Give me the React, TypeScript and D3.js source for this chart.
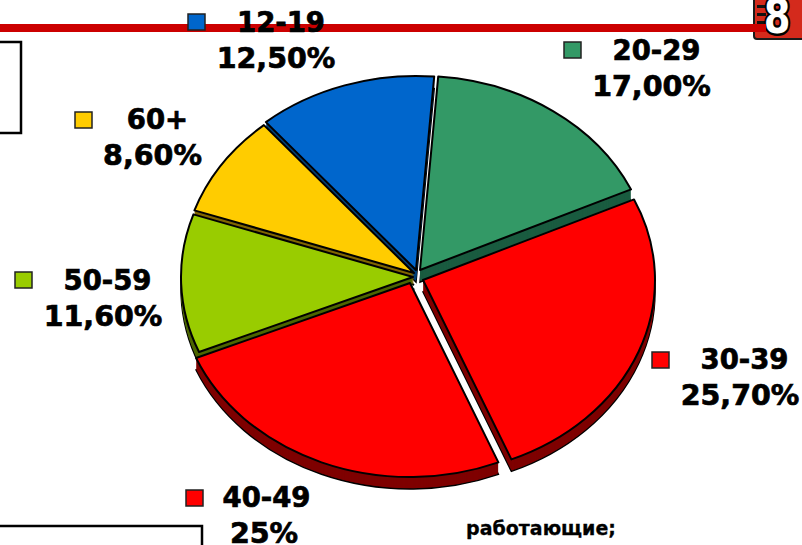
import React from "react";
import * as d3 from "d3";

const groups = ["20-29", "30-39", "40-49", "50-59", "60+", "12-19"];
const shares = [17.0, 25.7, 25.0, 11.6, 8.6, 12.5];
const shareLabels = ["17,00%", "25,70%", "25%", "11,60%", "8,60%", "12,50%"];
const topColors = ["#339966", "#FF0000", "#FF0000", "#99CC00", "#FFCC00", "#0066CC"];
const wallColors = ["#1A5C40", "#7F0000", "#7F0000", "#4D6600", "#806600", "#003D73"];
const centersX = [420, 423, 410, 413, 414, 416];
const centersY = [270, 280, 283, 277, 273, 270];
const drawOrder = [0, 5, 4, 3, 2, 1];
const groupX = [656.5, 744.5, 266.5, 107.5, 157.5, 281];
const shareX = [651.5, 740, 264, 103, 152.5, 276];
const labelY = [60, 369, 507, 290, 129, 32];
const swatchX = [564, 652, 186, 15, 75, 188];
const swatchY = [42, 352, 490, 272, 112, 14];
const stripeY = [5, 13, 21];

const RX = 232;
const RY = 194;
const DEPTH = 12;
const FONT = "'DejaVu Sans', Verdana, sans-serif";

export default function App() {
  const pieGen = d3
    .pie<number>()
    .sort(null)
    .startAngle((4.5 * Math.PI) / 180)
    .endAngle(((4.5 + 360) * Math.PI) / 180);
  const arcs = pieGen(shares);
  const arcGen = d3.arc<d3.PieArcDatum<number>>().innerRadius(0).outerRadius(RX);
  const yScale = RY / RX;
  const wallSteps = d3.range(DEPTH, 0, -1);

  return (
    <svg
      width={802}
      height={545}
      viewBox="0 0 802 545"
      style={{ position: "fixed", left: 0, top: 0, background: "#fff" }}
    >
      <g>
        <rect x={754} y={-6} width={60} height={45} rx={3} fill="#D42A1C" stroke="#1a1a1a" strokeWidth={2} />
        {stripeY.map((y) => (
          <rect key={y} x={757} y={y} width={9} height={3} fill="#111" />
        ))}
        <g transform="translate(777,33) scale(0.8,1)">
          <text
            x={0}
            y={0}
            textAnchor="middle"
            fontFamily={FONT}
            fontWeight="bold"
            fontSize={48}
            fill="#fff"
            stroke="#000"
            strokeWidth={5}
            paintOrder="stroke"
          >
            8
          </text>
        </g>
      </g>
      <rect x={0} y={24} width={766} height={8} fill="#CC0000" />

      <rect x={-4} y={42} width={25} height={91} fill="none" stroke="#000" strokeWidth={2.5} />
      <rect x={-4} y={526} width={206} height={40} fill="none" stroke="#000" strokeWidth={2.5} />

      {drawOrder.map((i) => (
        <g key={groups[i]}>
          {wallSteps.map((step) => (
            <path
              key={step}
              d={arcGen(arcs[i]) ?? ""}
              transform={`translate(${centersX[i]},${centersY[i] + step}) scale(1,${yScale})`}
              fill={wallColors[i]}
              stroke={step === DEPTH ? "#000" : "none"}
              strokeWidth={1.5}
              vectorEffect="non-scaling-stroke"
            />
          ))}
          <path
            d={arcGen(arcs[i]) ?? ""}
            transform={`translate(${centersX[i]},${centersY[i]}) scale(1,${yScale})`}
            fill={topColors[i]}
            stroke="#000"
            strokeWidth={2}
            strokeLinejoin="round"
            vectorEffect="non-scaling-stroke"
          />
        </g>
      ))}

      {groups.map((g, i) => (
        <g key={g}>
          <rect x={swatchX[i]} y={swatchY[i]} width={17} height={16} fill={topColors[i]} stroke="#222" strokeWidth={1.5} />
          <text x={groupX[i]} y={labelY[i]} textAnchor="middle" fontFamily={FONT} fontWeight="bold" fontSize={27.5} fill="#000" stroke="#000" strokeWidth={0.7}>
            {g}
          </text>
          <text x={shareX[i]} y={labelY[i] + 36} textAnchor="middle" fontFamily={FONT} fontWeight="bold" fontSize={28.5} fill="#000" stroke="#000" strokeWidth={0.7}>
            {shareLabels[i]}
          </text>
        </g>
      ))}

      <text x={541} y={535} textAnchor="middle" fontFamily={FONT} fontWeight="bold" fontSize={19} fill="#000" stroke="#000" strokeWidth={0.3}>
        работающие;
      </text>
    </svg>
  );
}
